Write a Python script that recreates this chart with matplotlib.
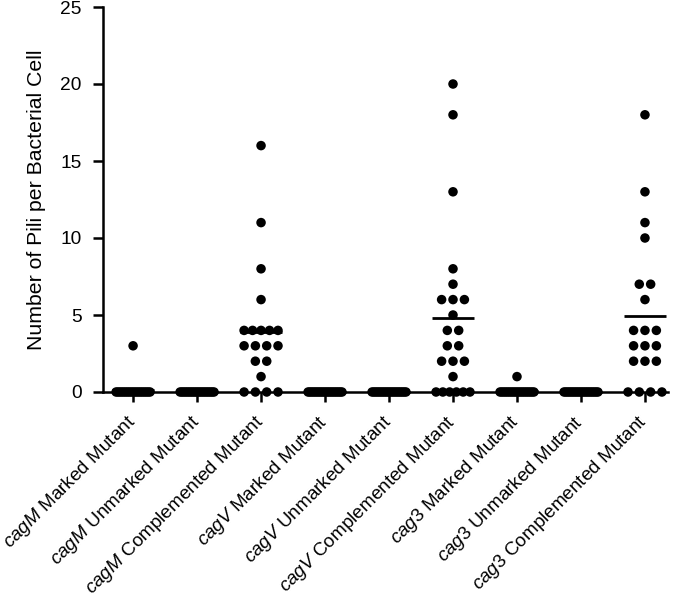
import matplotlib
matplotlib.use("Agg")
import matplotlib.pyplot as plt
import matplotlib.transforms as mtransforms
import numpy as np

plt.rcParams['font.family'] = ['Liberation Sans', 'DejaVu Sans']
plt.rcParams['mathtext.fontset'] = 'custom'
plt.rcParams['mathtext.it'] = 'Liberation Sans:italic'
plt.rcParams['mathtext.rm'] = 'Liberation Sans'

genes = ["cagM", "cagM", "cagM", "cagV", "cagV", "cagV", "cag3", "cag3", "cag3"]
kinds = ["Marked Mutant", "Unmarked Mutant", "Complemented Mutant"] * 3

cagM_marked = [3] + [0] * 19
cagM_unmarked = [0] * 20
cagM_comp = [16, 11, 8, 6, 4, 4, 4, 4, 4, 3, 3, 3, 3, 2, 2, 1, 0, 0, 0, 0]
cagV_marked = [0] * 20
cagV_unmarked = [0] * 20
cagV_comp = [20, 18, 13, 8, 7, 6, 6, 6, 5, 4, 4, 3, 3, 2, 2, 2, 1, 0, 0, 0, 0, 0, 0]
cag3_marked = [1] + [0] * 19
cag3_unmarked = [0] * 20
cag3_comp = [18, 13, 11, 10, 7, 7, 6, 4, 4, 4, 3, 3, 3, 2, 2, 2, 0, 0, 0, 0]

groups = [cagM_marked, cagM_unmarked, cagM_comp,
          cagV_marked, cagV_unmarked, cagV_comp,
          cag3_marked, cag3_unmarked, cag3_comp]

fig = plt.figure(figsize=(6.8, 6.14), dpi=100)
ax = fig.add_axes([103/680, 1 - 392/614, (668 - 103)/680, (392 - 7)/614])

for i, vals in enumerate(groups):
    vals = np.array(vals, dtype=float)
    xs, ys = [], []
    for v in np.unique(vals):
        k = int(np.sum(vals == v))
        s = 0.178 if k <= 1 else min(0.178, 0.53 / (k - 1))
        offs = (np.arange(k) - (k - 1) / 2) * s
        xs.extend(i + offs)
        ys.extend([v] * k)
    ax.scatter(xs, ys, s=47, color='black', edgecolors='none', zorder=3, clip_on=False)
    m = vals.mean()
    ax.hlines(m, i - 0.33, i + 0.33, color='black', lw=2.0, zorder=4, clip_on=False)

ax.set_xlim(-0.47, 8.36)
ax.set_ylim(0, 25)
ax.set_yticks([0, 5, 10, 15, 20, 25])
ax.set_xticks(range(9))
labels = [r"$\mathit{%s}$ %s" % (g, k) for g, k in zip(genes, kinds)]
ax.set_xticklabels(labels, rotation=45, ha='right', va='center',
                   rotation_mode='anchor', fontsize=13.6)
shift = mtransforms.ScaledTranslation(2/100, 0, fig.dpi_scale_trans)
for lab in ax.get_xticklabels():
    lab.set_transform(lab.get_transform() + shift)
ax.tick_params(axis='y', labelsize=13.8, width=1.8, length=7.5, direction='out', pad=8)
ax.tick_params(axis='x', width=1.8, length=7.5, direction='out', pad=12)
for sp in ['top', 'right']:
    ax.spines[sp].set_visible(False)
for sp in ['left', 'bottom']:
    ax.spines[sp].set_linewidth(1.8)
ax.set_ylabel("Number of Pili per Bacterial Cell", fontsize=15.3, labelpad=10)

fig.savefig("out.png", dpi=100)
